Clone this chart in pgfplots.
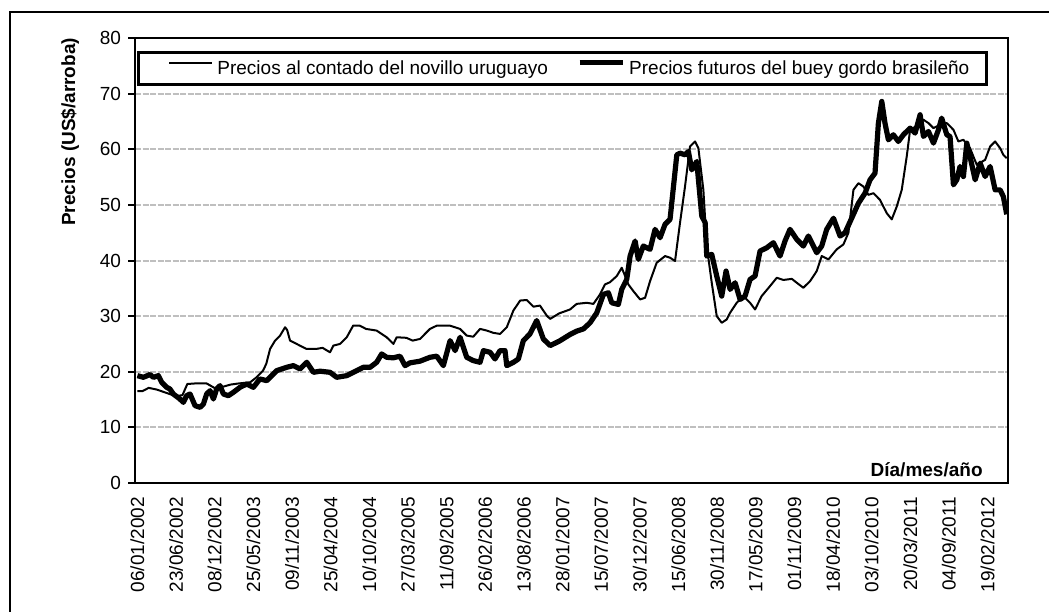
\documentclass[border=0pt]{standalone}
\usepackage{fontspec}
\setmainfont{Liberation Sans}
\usepackage{pgfplots}
\usepackage{pgfplotstable}
\pgfplotsset{compat=1.18}

\pgfplotstableread{
w v
0 16.5
3 16.5
7 17.1
12 16.8
19 16.1
24 15.6
28 15.8
31 17.8
36 17.9
43 17.9
46 17.4
49 16.9
53 17.3
58 17.7
63 17.9
70 18.1
74 19.0
78 20.2
80 21.4
82.4 24.1
85.5 25.6
88.6 26.5
91.7 28.0
93 27.5
94.8 25.6
98.9 25.0
105 24.1
111 24.1
115 24.3
119.6 23.5
121.7 24.7
125.8 25.0
130 26.2
134 28.3
138 28.3
142 27.7
148.6 27.4
154.8 26.2
159 25.0
161 26.2
167 26.1
171 25.6
175.5 25.9
181.7 27.7
186 28.3
194 28.3
200.4 27.7
204.5 26.5
208.6 26.3
212.8 27.7
217 27.4
221 27.0
225.2 26.8
229.4 28.0
233.5 31.0
237.7 32.8
241.8 32.9
246 31.7
250 31.9
254.2 30.1
256.3 29.5
262 30.5
268.7 31.2
272.8 32.2
279.1 32.4
283.2 32.2
287.3 33.9
290.4 35.7
293.5 36.1
297.7 37.2
300.8 38.7
302.9 37.2
304.9 35.7
308.0 34.5
312.2 33.0
315.3 33.3
318.4 36.3
322.5 39.6
327.7 40.8
330.8 40.5
333.9 39.9
337.0 46.8
340.1 53.3
343.2 60.5
346.3 61.4
348.4 60.2
351.5 52.7
353.6 42.6
356.7 36.0
359.8 30.0
362.9 28.8
366.0 29.4
368.1 30.6
372.2 32.4
376.4 33.6
380.5 32.4
383.6 31.2
387.7 33.6
392.9 35.4
397.1 36.9
401.2 36.5
406.4 36.7
409.5 36.0
413.6 35.1
417.8 36.3
421.9 38.1
425.0 40.8
429.2 40.2
434.3 42.0
438.5 42.9
441.6 45.0
444.7 52.7
447.8 53.9
450.9 53.3
454.0 51.8
457.1 52.1
461.2 50.9
465.4 48.5
468.5 47.4
471.6 49.7
474.7 52.7
477.8 58.7
479.9 63.5
484.0 64.2
488.2 65.3
491.3 64.7
494.4 63.8
498.5 64.4
502.7 64.7
506.8 63.5
509.9 61.4
513.0 61.7
517.1 60.2
521.3 57.2
526.5 58.1
529.6 60.5
532.7 61.4
535.8 60.2
537.8 59.0
539.9 58.4
}\uru

\pgfplotstableread{
w v
0 19.3
3.7 19.0
7.8 19.5
9.9 19.0
13 19.3
15.1 18.1
18.2 17.2
20.2 16.9
22.3 16.0
26.4 15.1
28.5 14.5
30.6 15.7
32.7 16.0
35.8 13.9
38.9 13.6
41 14.2
43 16.0
45.1 16.6
47.2 15.1
49.2 16.9
51.3 17.5
53.4 16.0
56.5 15.7
59.6 16.3
63.7 17.2
67.9 17.8
72 17.2
76.1 18.7
80.3 18.4
82.4 19.0
86.5 20.2
92.7 20.8
96.9 21.1
101 20.5
105.2 21.7
109.3 19.9
113.4 20.1
119.6 19.9
123.8 19.0
130 19.3
136.2 20.2
140.3 20.8
144.5 20.8
148.6 21.7
151.7 23.2
154.8 22.6
158.9 22.5
163.1 22.8
166.2 21.1
169.3 21.6
175.5 21.9
181.7 22.6
185.9 22.8
190 21.1
194.2 25.6
197.3 23.8
200.4 26.2
204.5 22.6
208.6 22.0
212.8 21.7
214.9 23.8
219 23.5
222.1 22.3
225.2 23.8
228.3 23.8
229.4 21.1
233.5 21.7
236.6 22.3
239.7 25.6
243.8 26.8
248 29.2
252.1 25.9
256.3 24.7
262 25.5
268.7 26.7
272.8 27.3
277 27.7
281.1 28.8
285.3 30.6
289.4 33.9
292.5 34.2
294.6 32.4
298.7 32.1
300.8 34.8
303.9 36.6
306 40.8
309.1 43.5
311.1 40.2
314.2 42.6
318.4 42.0
321.5 45.6
324.6 44.1
327.7 46.5
330.8 47.4
335 59.0
337 59.3
340.1 59.0
342.2 59.6
344.3 56.3
347.4 57.8
350.5 48.0
352.6 46.8
353.6 40.8
356.7 41.1
359.8 37.2
362.9 33.6
365.6 38.1
368.1 34.8
371.2 36.0
374.3 33.0
377.4 33.6
380.5 36.6
383.6 37.2
386.7 41.7
390.9 42.3
395 43.2
399.1 40.8
402.2 43.5
405.3 45.6
409.5 43.8
413.6 42.6
416.7 44.4
421.9 41.4
425 42.6
428.1 45.6
432.3 47.6
436.4 44.4
439.5 45.0
443.6 47.6
447.8 50.3
451.9 52.1
455 54.5
458.1 55.7
460.2 64.7
462.3 68.6
464.3 64.7
466.4 61.7
469.5 62.6
472.6 61.4
475.7 62.6
479.9 63.8
483 62.9
486.1 66.2
488.2 62.3
491.3 63.2
494.4 61.1
497.5 63.5
499.5 65.6
502.7 62.6
504.7 62.3
506.8 53.6
508.9 54.5
510.9 56.9
513 55.1
515.1 61.1
517.1 58.7
520.3 54.5
523.4 57.5
526.5 55.1
529.6 56.9
532.7 52.7
535.8 52.7
537.8 51.5
539.9 48.3
}\bra

\begin{document}
\begin{tikzpicture}
\useasboundingbox (0,0) rectangle (524.5pt,305.5pt);
\clip (0,0) rectangle (524.5pt,305.5pt);
\draw[line width=1pt] (5pt,-20pt) rectangle (560pt,299.5pt);
\begin{axis}[
  at={(67.5pt,64pt)}, anchor=south west,
  scale only axis, width=436.5pt, height=222.5pt,
  xmin=-1.5, xmax=540.7, ymin=0, ymax=80,
  ytick={0,10,...,80},
  xtick={0,24,...,528},
  xticklabels={06/01/2002,23/06/2002,08/12/2002,25/05/2003,09/11/2003,25/04/2004,10/10/2004,27/03/2005,11/09/2005,26/02/2006,13/08/2006,28/01/2007,15/07/2007,30/12/2007,15/06/2008,30/11/2008,17/05/2009,01/11/2009,18/04/2010,03/10/2010,20/03/2011,04/09/2011,19/02/2012},
  xtick style={draw=none},
  ytick pos=left, xtick pos=bottom,
  tick align=outside,
  major tick length=3.5pt,
  ytick style={line width=1pt, black},
  ymajorgrids,
  grid style={line width=1pt, color=black!25, dash pattern=on 3pt off 0.75pt},
  axis line style={line width=1.25pt},
  tick label style={font=\fontsize{9.5}{11}\selectfont},
  /pgf/number format/assume math mode=true,
  xticklabel style={rotate=90, anchor=east},
  ylabel={Precios (US\$/arroba)},
  ylabel style={font=\bfseries\fontsize{9.5}{11}\selectfont, at={(rel axis cs:-0.0745,0.789)}, anchor=center},
  xlabel={Día/mes/año},
  xlabel style={font=\bfseries\fontsize{9.5}{11}\selectfont, at={(rel axis cs:0.979,0.0135)}, anchor=base east},
  legend columns=2,
  legend style={at={(rel axis cs:0.0023,0.971)}, anchor=north west, draw=black, line width=1.4pt, fill=white,
    inner xsep=8.5pt, inner ysep=3.75pt,
    font=\fontsize{9.5}{11}\selectfont,
    nodes={inner sep=0pt, text height=7.5pt, text depth=1pt},
    /tikz/every odd column/.append style={column sep=2pt},
    /tikz/every even column/.append style={column sep=8pt}},
  legend image code/.code={\path (0pt,0pt); \draw[#1] (6.5pt,2.8pt) -- (28pt,2.8pt);},
]
\addplot[black, line width=1pt, line join=round] table[x=w, y=v] {\uru};
\addlegendentry{Precios al contado del novillo uruguayo}
\addplot[black, line width=2.6pt, line join=round] table[x=w, y=v] {\bra};
\addlegendentry{Precios futuros del buey gordo brasileño}
\end{axis}
\end{tikzpicture}
\end{document}
